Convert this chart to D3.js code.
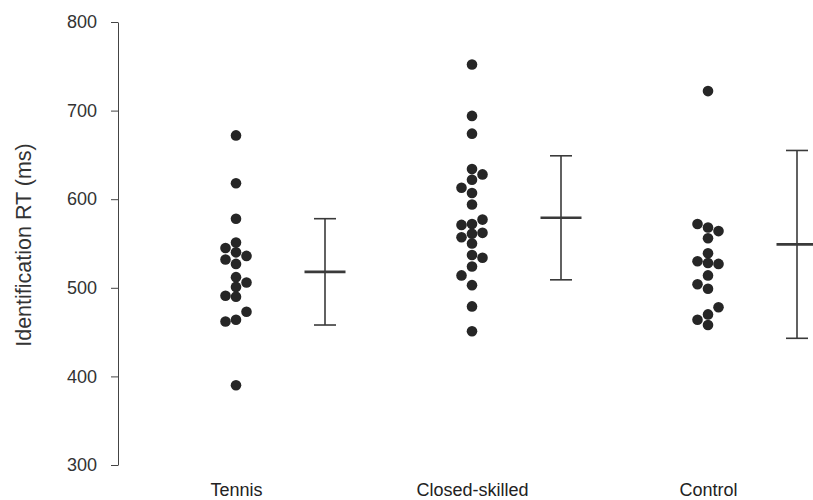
<!DOCTYPE html>
<html>
<head>
<meta charset="utf-8">
<script src="https://cdn.jsdelivr.net/npm/d3@7"></script>
<style>
  body { margin: 0; background: #fff; }
  svg { display: block; }
  text { font-family: "Liberation Sans", Arial, Helvetica, sans-serif; }
</style>
</head>
<body>
<svg id="chart" width="813" height="500"></svg>
<script>
// Groups and individual identification RTs (ms), one value per participant
const groups = ["Tennis", "Closed-skilled", "Control"];
const tennisRT = [672, 618, 578, 551, 540, 536, 545, 532, 527, 512, 506, 501, 490, 491, 464, 473, 462, 390];
const closedRT = [752, 694, 674, 634, 628, 622, 613, 607, 594, 572, 577, 571, 561, 562, 557, 550, 537, 534, 524, 514, 503, 479, 451];
const controlRT = [722, 568, 556, 539, 528, 499, 470, 458, 564, 572, 527, 504, 530, 514, 478, 464];

// Group summaries: mean and standard deviation (ms)
const groupMeans = [518, 579, 549];
const groupSDs = [60, 70, 106];

const yTicks = [300, 400, 500, 600, 700, 800];
const yTitle = "Identification RT (ms)";

const groupValues = [tennisRT, closedRT, controlRT];

const svg = d3.select("#chart");

const y = d3.scaleLinear().domain([300, 800]).range([465, 22]);
const x = d3.scalePoint().domain(groups).range([236, 708]);

const barOffset = 89;      // summary bar sits to the right of the dots
const colStep = 10.5;      // horizontal step between swarm columns
const swarmGap = 9.5;      // minimum vertical gap within a column
const dotR = 5.3;

// Place dots into discrete columns so that dots in one column do not pile up
function swarm(values) {
  const placed = [];
  let nextSide = 1;
  return values.map(v => {
    const py = y(v);
    const free = c => placed.every(p => p.col !== c || Math.abs(p.y - py) >= swarmGap);
    let col = 0;
    if (!free(0)) {
      for (let k = 1; k < 10; k++) {
        if (free(nextSide * k)) { col = nextSide * k; break; }
        if (free(-nextSide * k)) { col = -nextSide * k; break; }
      }
      nextSide = col > 0 ? -1 : 1;
    }
    placed.push({ y: py, col });
    return { value: v, col };
  });
}

// Y axis
const yAxis = svg.append("g")
  .attr("transform", "translate(118,0)")
  .call(d3.axisLeft(y).tickValues(yTicks).tickSize(7).tickSizeOuter(0).tickPadding(14));
yAxis.select(".domain").attr("stroke", "#444").attr("stroke-width", 1);
yAxis.selectAll(".tick line").attr("stroke", "#444").attr("stroke-width", 1);
yAxis.selectAll(".tick text")
  .attr("fill", "#333")
  .style("font-size", "18px")
  .style("font-family", "'Liberation Sans', Arial, sans-serif");

// Y title
svg.append("text")
  .attr("transform", "translate(31,245) rotate(-90)")
  .attr("text-anchor", "middle")
  .attr("fill", "#333")
  .style("font-size", "21.5px")
  .text(yTitle);

// X category labels (no axis line)
const xAxis = svg.append("g")
  .attr("transform", "translate(0,465)")
  .call(d3.axisBottom(x).tickSize(0).tickPadding(18));
xAxis.select(".domain").remove();
xAxis.selectAll(".tick text")
  .attr("fill", "#222")
  .style("font-size", "18px")
  .style("font-family", "'Liberation Sans', Arial, sans-serif");

// Individual data points
groups.forEach((g, i) => {
  const pts = swarm(groupValues[i]);
  svg.append("g")
    .selectAll("circle")
    .data(pts)
    .join("circle")
    .attr("cx", d => x(g) + d.col * colStep)
    .attr("cy", d => y(d.value))
    .attr("r", dotR)
    .attr("fill", "#262626");
});

// Mean +/- SD bars
const bars = svg.append("g").attr("stroke", "#3a3a3a").attr("fill", "none");
groups.forEach((g, i) => {
  const cx = x(g) + barOffset;
  const lo = groupMeans[i] - groupSDs[i];
  const hi = groupMeans[i] + groupSDs[i];
  bars.append("line")
    .attr("x1", cx).attr("x2", cx)
    .attr("y1", y(lo)).attr("y2", y(hi))
    .attr("stroke-width", 1.6);
  [lo, hi].forEach(v => {
    bars.append("line")
      .attr("x1", cx - 11).attr("x2", cx + 11)
      .attr("y1", y(v)).attr("y2", y(v))
      .attr("stroke-width", 1.6);
  });
  bars.append("line")
    .attr("x1", cx - 20.5).attr("x2", cx + 20.5)
    .attr("y1", y(groupMeans[i])).attr("y2", y(groupMeans[i]))
    .attr("stroke-width", 2.6);
});
</script>
</body>
</html>
